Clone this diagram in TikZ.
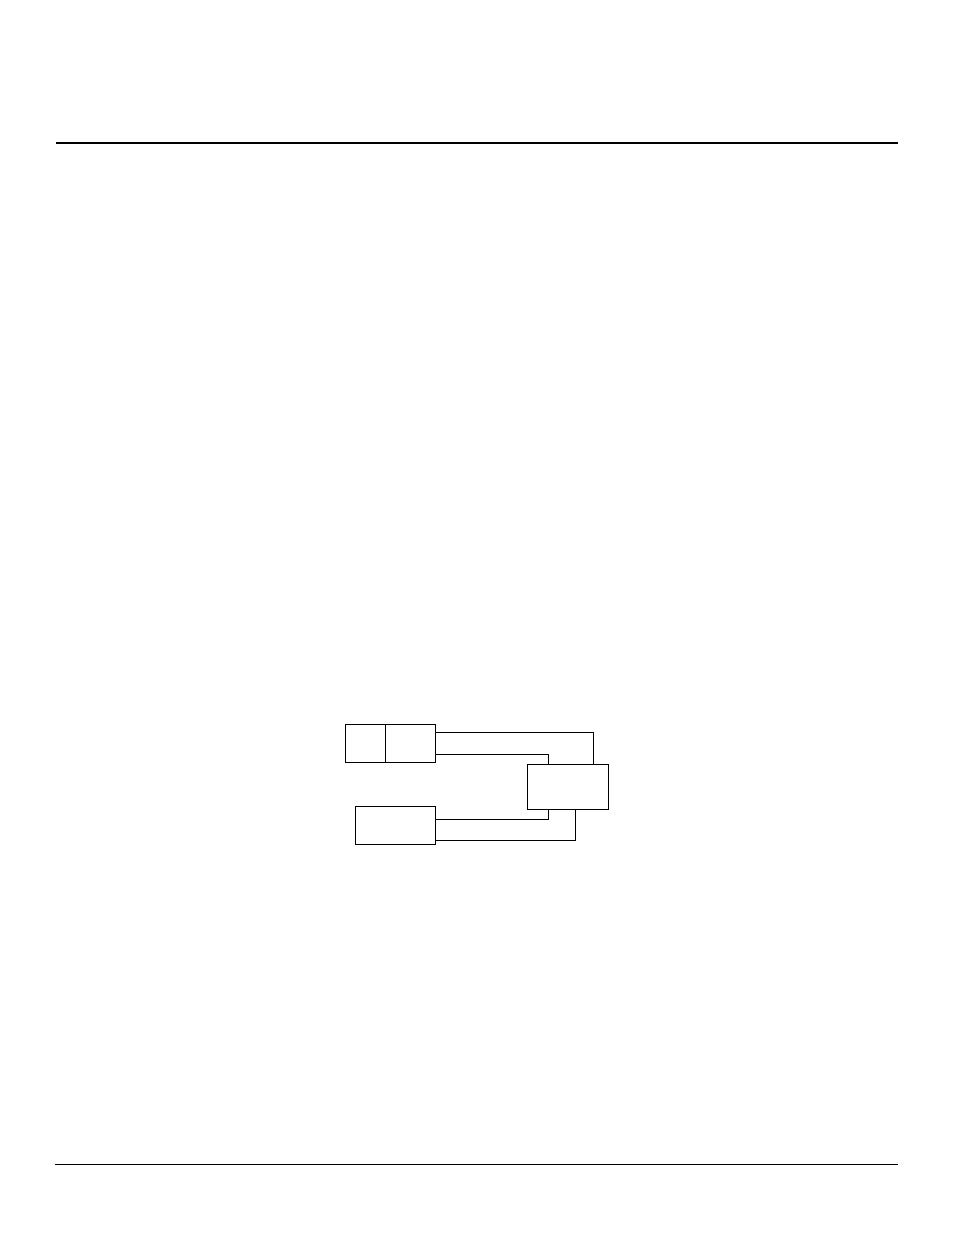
\documentclass[tikz,border=0pt]{standalone}
\usetikzlibrary{positioning}
\begin{document}
\begin{tikzpicture}[x=1pt,y=-1pt,
  box/.style={draw,line width=1pt,inner sep=0pt,outer sep=0pt,anchor=north west},
  wire/.style={draw,line width=1pt}]
\useasboundingbox (0,0) rectangle (954,1235);
% page rules
\coordinate (t1) at (56,143);
\coordinate (t2) at (898,143);
\coordinate (b1) at (55,1164);
\coordinate (b2) at (898,1164);
\draw[line width=2pt] (t1) -- (t2);
\draw[line width=1pt] (b1) -- (b2);
% boxes
\node[box,minimum width=40pt,minimum height=38pt] (a1) at (345.3,724.3) {};
\node[box,minimum width=50pt,minimum height=38pt] (a2) at (385.3,724.3) {};
\node[box,minimum width=80pt,minimum height=38.4pt] (b) at (355.3,806.3) {};
\node[box,minimum width=81pt,minimum height=45pt] (c) at (527.3,764.3) {};
% connectors
\draw[wire] ([yshift=-8pt]a2.north east) -| ([xshift=-15pt]c.north east);
\draw[wire] ([yshift=8pt]a2.south east) -| ([xshift=21pt]c.north west);
\draw[wire] ([yshift=-12.7pt]b.north east) -| ([xshift=21pt]c.south west);
\draw[wire] ([yshift=4.7pt]b.south east) -| ([xshift=48.4pt]c.south west);
\end{tikzpicture}
\end{document}
